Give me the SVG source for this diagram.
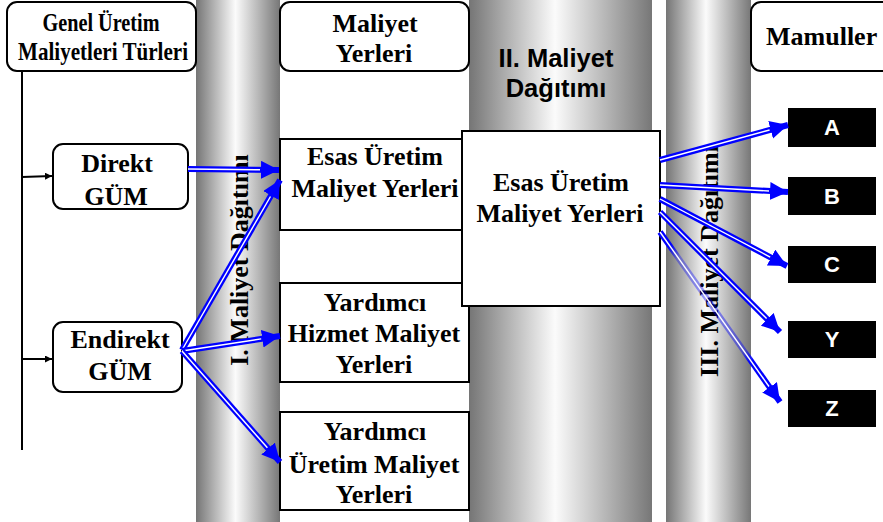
<svg xmlns="http://www.w3.org/2000/svg" width="883" height="522" viewBox="0 0 883 522">
<defs>
<linearGradient id="cyl" x1="0" y1="0" x2="1" y2="0">
<stop offset="0" stop-color="#757575"/>
<stop offset="0.47" stop-color="#fbfbfb"/>
<stop offset="1" stop-color="#777777"/>
</linearGradient>
<linearGradient id="zfade" gradientUnits="userSpaceOnUse" x1="660" y1="232" x2="780" y2="402">
<stop offset="0" stop-color="#0000ff"/>
<stop offset="0.08" stop-color="#0000ff"/>
<stop offset="0.15" stop-color="#0000ff" stop-opacity="0.35"/>
<stop offset="0.7" stop-color="#0000ff" stop-opacity="0.45"/>
<stop offset="0.76" stop-color="#0000ff"/>
<stop offset="1" stop-color="#0000ff"/>
</linearGradient>
<marker id="ah" markerUnits="userSpaceOnUse" markerWidth="20" markerHeight="20" refX="18" refY="9" orient="auto">
<path d="M0,0 L18,9 L0,18 z" fill="#0000ff"/>
</marker>
<marker id="bh" markerUnits="userSpaceOnUse" markerWidth="8" markerHeight="8" refX="7" refY="3.5" orient="auto">
<path d="M0,0 L7,3.5 L0,7 z" fill="#000"/>
</marker>
<style>
.serif{font-family:"Liberation Serif","Times New Roman",serif;font-weight:bold;fill:#000;}
.s26{font-size:26px;}
.mid{text-anchor:middle;}
.sans{font-family:"Liberation Sans",Arial,sans-serif;font-weight:bold;}
.hdr{fill:#fff;stroke:#000;stroke-width:2;}
.box{fill:#fff;stroke:#000;stroke-width:2;}
.blk{fill:#000;}
.lbl{font-family:"Liberation Sans",Arial,sans-serif;font-weight:bold;font-size:22px;fill:#fff;text-anchor:middle;}
.ln{fill:none;stroke:#0000ff;stroke-width:6;marker-end:url(#ah);}
.wl{fill:none;stroke:#fff;stroke-width:1.4;}
.tree{fill:none;stroke:#000;stroke-width:2;}
</style>
</defs>
<rect width="883" height="522" fill="#fff"/>

<g id="bars">
<rect x="196" y="0" width="84" height="522" fill="url(#cyl)"/>
<rect x="469" y="0" width="183" height="522" fill="url(#cyl)"/>
<rect x="666" y="0" width="85" height="522" fill="url(#cyl)"/>
</g>

<g id="bar1-label">
<text class="serif s26 mid" transform="translate(248,260) rotate(-90)">I. Maliyet Dağıtımı</text>
</g>
<g id="bar3-label">
<text class="serif s26 mid" transform="translate(718,261) rotate(-90)">III. Maliyet Dağıtımı</text>
</g>
<g id="bar2-label">
<text class="sans mid" font-size="25.5" x="556" y="67">II. Maliyet</text>
<text class="sans mid" font-size="25.5" x="556" y="97">Dağıtımı</text>
</g>

<g id="hdr-genel">
<rect class="hdr" x="7" y="2" width="189" height="69" rx="10"/>
<text class="serif mid" font-size="25" x="101" y="31" textLength="117" lengthAdjust="spacingAndGlyphs">Genel Üretim</text>
<text class="serif mid" font-size="25" x="103" y="60" textLength="170" lengthAdjust="spacingAndGlyphs">Maliyetleri Türleri</text>
</g>
<g id="hdr-yerler">
<rect class="hdr" x="280" y="2" width="189" height="69" rx="10"/>
<text class="serif s26 mid" x="375" y="32">Maliyet</text>
<text class="serif s26 mid" x="374" y="62">Yerleri</text>
</g>
<g id="hdr-mamuller">
<rect class="hdr" x="751" y="2" width="150" height="69" rx="10"/>
<text class="serif s26" x="766" y="45">Mamuller</text>
</g>

<g id="tree">
<path class="tree" d="M22,71 V450"/>
<path class="tree" d="M22,177 L52,176" marker-end="url(#bh)"/>
<path class="tree" d="M22,359 L52,359" marker-end="url(#bh)"/>
</g>

<g id="direkt">
<rect class="box" x="53" y="144" width="135" height="65" rx="10" stroke-width="1.5"/>
<text class="serif s26 mid" x="117" y="172">Direkt</text>
<text class="serif s26 mid" x="116" y="205">GÜM</text>
</g>
<g id="endirekt">
<rect class="box" x="53" y="322" width="129" height="70" rx="10" stroke-width="1.5"/>
<text class="serif s26 mid" x="120" y="348">Endirekt</text>
<text class="serif s26 mid" x="120" y="380">GÜM</text>
</g>

<g id="esas1">
<rect class="box" x="280" y="139" width="189" height="91"/>
<text class="serif s26 mid" x="375" y="165">Esas Üretim</text>
<text class="serif s26 mid" x="375" y="197">Maliyet Yerleri</text>
</g>
<g id="hizmet">
<rect class="box" x="280" y="283" width="189" height="99"/>
<text class="serif s26 mid" x="375" y="311">Yardımcı</text>
<text class="serif s26 mid" x="374" y="342">Hizmet Maliyet</text>
<text class="serif s26 mid" x="374" y="373">Yerleri</text>
</g>
<g id="uretim">
<rect class="box" x="280" y="412" width="189" height="98"/>
<text class="serif s26 mid" x="375" y="440">Yardımcı</text>
<text class="serif s26 mid" x="374" y="473">Üretim Maliyet</text>
<text class="serif s26 mid" x="374" y="503">Yerleri</text>
</g>
<g id="esas2">
<rect class="box" x="462" y="131" width="198" height="175"/>
<text class="serif s26 mid" x="561" y="191">Esas Üretim</text>
<text class="serif s26 mid" x="560" y="222">Maliyet Yerleri</text>
</g>

<g id="mA"><rect class="blk" x="788" y="108" width="88" height="39"/><text class="lbl" x="832" y="135">A</text></g>
<g id="mB"><rect class="blk" x="788" y="177" width="88" height="38"/><text class="lbl" x="832" y="204">B</text></g>
<g id="mC"><rect class="blk" x="788" y="246" width="88" height="37"/><text class="lbl" x="832" y="272">C</text></g>
<g id="mY"><rect class="blk" x="788" y="321" width="88" height="37"/><text class="lbl" x="832" y="347">Y</text></g>
<g id="mZ"><rect class="blk" x="788" y="390" width="88" height="37"/><text class="lbl" x="832" y="416">Z</text></g>

<g id="connectors">
<path class="ln" d="M188,169 L279,170"/>
<path class="wl" d="M188,169 L260,169.8"/>
<path class="ln" d="M182,350 L280,180"/>
<path class="wl" d="M182,350 L270.5,196.5"/>
<path class="ln" d="M182,351 L280,336"/>
<path class="wl" d="M182,351 L261.2,338.9"/>
<path class="ln" d="M182,351 L280,462"/>
<path class="wl" d="M182,351 L267.4,447.8"/>
<path class="ln" d="M660,160 L788,125"/>
<path class="wl" d="M660,160 L769.6,130"/>
<path class="ln" d="M660,185 L788,192"/>
<path class="wl" d="M660,185 L769,191"/>
<path class="ln" d="M660,199 L787,266"/>
<path class="wl" d="M660,199 L770.2,257.1"/>
<path class="ln" d="M660,212 L780,332"/>
<path class="wl" d="M660,212 L766.6,318.6"/>
<path class="ln" d="M660,232 L780,402" style="stroke:url(#zfade)"/>
<path class="wl" d="M660,232 L769,386.5"/>
</g>
</svg>
